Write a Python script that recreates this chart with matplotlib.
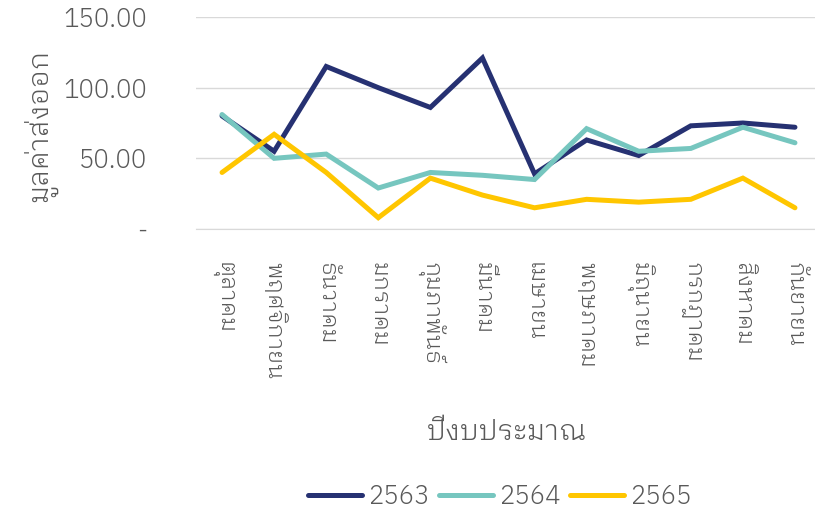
import matplotlib
matplotlib.use("Agg")
import matplotlib.pyplot as plt
from matplotlib.ticker import FuncFormatter

months = ["ตุลาคม", "พฤศจิกายน", "ธันวาคม", "มกราคม", "กุมภาพันธ์", "มีนาคม",
          "เมษายน", "พฤษภาคม", "มิถุนายน", "กรกฎาคม", "สิงหาคม", "กันยายน"]
y2563 = [80, 55, 115, 100, 86, 121, 39, 63, 52, 73, 75, 72]
y2564 = [81, 50, 53, 29, 40, 38, 35, 71, 55, 57, 72, 61]
y2565 = [40, 67, 40, 8, 36, 24, 15, 21, 19, 21, 36, 15]
series_names = ["2563", "2564", "2565"]
colors = ["#263172", "#76C6BF", "#FFC600"]

plt.rcParams["font.family"] = ["IBM Plex Sans Thai Looped", "Noto Sans Thai Looped", "DejaVu Sans"]
plt.rcParams["font.weight"] = 300

grey = "#595959"
fig = plt.figure(figsize=(8.15, 5.14), dpi=100)
ax = fig.add_axes([196 / 815, 1 - 229 / 514, (821 - 196) / 815, (229 - 17) / 514])

x = list(range(len(months)))
for name, vals, c in zip(series_names, [y2563, y2564, y2565], colors):
    ax.plot(x, vals, color=c, linewidth=3.6, label=name, solid_capstyle="round",
            solid_joinstyle="miter")

ax.set_xlim(-0.5, len(months) - 0.5)
ax.set_ylim(0, 150)
ax.set_yticks([0, 50, 100, 150])
ax.yaxis.set_major_formatter(FuncFormatter(lambda v, p: "-" if v == 0 else f"{v:.2f}"))
ax.grid(axis="y", color="#D9D9D9", linewidth=1)
ax.set_axisbelow(True)
for s in ["left", "right", "top"]:
    ax.spines[s].set_visible(False)
ax.spines["bottom"].set_color("#D9D9D9")
ax.tick_params(axis="y", length=0, labelsize=18.5, labelcolor=grey, pad=35)
ax.tick_params(axis="x", length=0, labelsize=16.5, labelcolor=grey, pad=24)
ax.set_xticks(x)
ax.set_xticklabels(months, rotation=-90, va="top", ha="center")
for lbl in ax.get_yticklabels():
    lbl.set_horizontalalignment("right")

fig.text(40 / 815, 1 - 125 / 514, "มูลค่าส่งออก", rotation=90, ha="center", va="center",
         fontsize=20, color=grey)
fig.text(507 / 815, 1 - 432 / 514, "ปีงบประมาณ", ha="center", va="center",
         fontsize=20, color=grey)

fig.legend(loc="center", bbox_to_anchor=(500 / 815, 1 - 496 / 514), ncol=3, frameon=False,
           fontsize=18.5, labelcolor=grey, handlelength=2.1, handletextpad=0.25,
           columnspacing=0.35)

fig.savefig("out.png", dpi=100)
